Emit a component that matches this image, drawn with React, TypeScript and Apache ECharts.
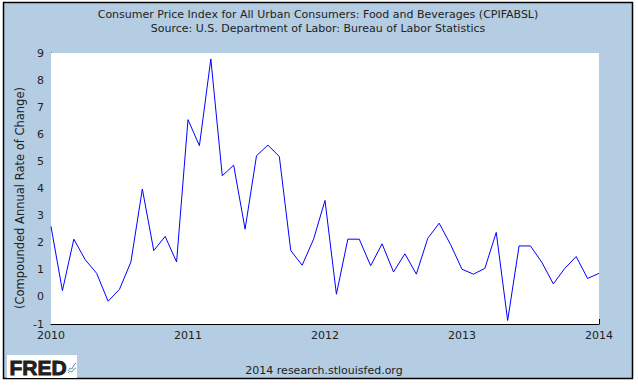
import React, { useEffect, useRef } from "react";
import * as echarts from "echarts";

const months: string[] = [
  "2010-01","2010-02","2010-03","2010-04","2010-05","2010-06","2010-07","2010-08","2010-09","2010-10","2010-11","2010-12",
  "2011-01","2011-02","2011-03","2011-04","2011-05","2011-06","2011-07","2011-08","2011-09","2011-10","2011-11","2011-12",
  "2012-01","2012-02","2012-03","2012-04","2012-05","2012-06","2012-07","2012-08","2012-09","2012-10","2012-11","2012-12",
  "2013-01","2013-02","2013-03","2013-04","2013-05","2013-06","2013-07","2013-08","2013-09","2013-10","2013-11","2013-12",
  "2014-01",
];

const cpiChange: number[] = [
  2.6, 0.23, 2.13, 1.37, 0.87, -0.16, 0.28, 1.29, 3.98, 1.71, 2.23, 1.29,
  6.54, 5.58, 8.78, 4.47, 4.86, 2.5, 5.21, 5.6, 5.18, 1.71, 1.17, 2.13,
  3.56, 0.1, 2.13, 2.13, 1.15, 1.96, 0.92, 1.59, 0.84, 2.16, 2.72, 1.93,
  1.02, 0.84, 1.05, 2.38, -0.87, 1.88, 1.88, 1.27, 0.48, 1.05, 1.49, 0.68,
  0.87,
];

const titleLines: string[] = [
  "Consumer Price Index for All Urban Consumers: Food and Beverages (CPIFABSL)",
  "Source: U.S. Department of Labor: Bureau of Labor Statistics",
];
const yAxisTitle = "(Compounded Annual Rate of Change)";
const footerText = "2014 research.stlouisfed.org";

const FONT = "DejaVu Sans, Verdana, sans-serif";

export default function App() {
  const ref = useRef<HTMLDivElement>(null);
  useEffect(() => {
    document.body.style.margin = "0";
    const chart = echarts.init(ref.current!, null, { renderer: "svg" });
    chart.setOption({
      animation: false,
      backgroundColor: "#ffffff",
      grid: {
        left: 51,
        right: 39,
        top: 53,
        bottom: 63,
        show: true,
        backgroundColor: "#ffffff",
        borderWidth: 0,
        z: 1,
      },
      graphic: [
        {
          type: "rect",
          z: -10,
          silent: true,
          shape: { x: 3.5, y: 2.5, width: 629, height: 376 },
          style: { fill: "#B4CDE3", stroke: "#000000", lineWidth: 1.5 },
        },
        {
          type: "text",
          x: 318,
          y: 14,
          style: { text: titleLines[0], font: `11px ${FONT}`, fill: "#222222", align: "center", verticalAlign: "middle" },
        },
        {
          type: "text",
          x: 318,
          y: 28,
          style: { text: titleLines[1], font: `11px ${FONT}`, fill: "#222222", align: "center", verticalAlign: "middle" },
        },
        {
          type: "text",
          x: 20,
          y: 198,
          rotation: Math.PI / 2,
          style: { text: yAxisTitle, font: `11.5px ${FONT}`, fill: "#222222", align: "center", verticalAlign: "middle" },
        },
        {
          type: "text",
          x: 324,
          y: 370,
          style: { text: footerText, font: `11px ${FONT}`, fill: "#222222", align: "center", verticalAlign: "middle" },
        },
        {
          type: "rect",
          shape: { x: 7, y: 355, width: 70, height: 23 },
          style: { fill: "#ffffff" },
        },
        {
          type: "text",
          x: 9.5,
          y: 367,
          style: {
            text: "FRED",
            font: `bold 21px "Liberation Sans", Arial, sans-serif`,
            fill: "#231F20",
            stroke: "#231F20",
            lineWidth: 0.9,
            verticalAlign: "middle",
          },
        },
        {
          type: "polyline",
          shape: { points: [[68, 373], [70, 371], [72, 372], [74, 369], [76, 368]] },
          style: { stroke: "#7AAA5A", lineWidth: 1, fill: "none" },
        },
        {
          type: "polyline",
          shape: { points: [[68, 371], [70, 368], [72, 369], [74, 365], [76, 363]] },
          style: { stroke: "#6A8FC8", lineWidth: 1, fill: "none" },
        },
      ],
      xAxis: {
        type: "category",
        data: months,
        boundaryGap: false,
        axisLine: { onZero: false, lineStyle: { color: "#000000", width: 1 } },
        axisTick: { inside: true, length: 5, interval: 11, lineStyle: { color: "#000000" } },
        axisLabel: {
          interval: 11,
          color: "#222222",
          fontFamily: FONT,
          fontSize: 11,
          margin: 6,
          formatter: (v: string) => v.slice(0, 4),
        },
        splitLine: { show: false },
      },
      yAxis: {
        type: "value",
        min: -1,
        max: 9,
        interval: 1,
        axisLine: { show: true, onZero: false, lineStyle: { color: "#000000", width: 1 } },
        axisTick: { show: true, inside: true, length: 5, lineStyle: { color: "#000000" } },
        axisLabel: { color: "#222222", fontFamily: FONT, fontSize: 11, margin: 7 },
        splitLine: { show: true, lineStyle: { color: "#AAAAAA", width: 1 } },
      },
      series: [
        {
          type: "line",
          data: cpiChange,
          showSymbol: false,
          symbol: "none",
          lineStyle: { color: "#0000FF", width: 1 },
          z: 3,
        },
      ],
    });
    return () => chart.dispose();
  }, []);
  return <div ref={ref} style={{ width: 638, height: 387, position: "absolute", left: 0, top: 0 }} />;
}
